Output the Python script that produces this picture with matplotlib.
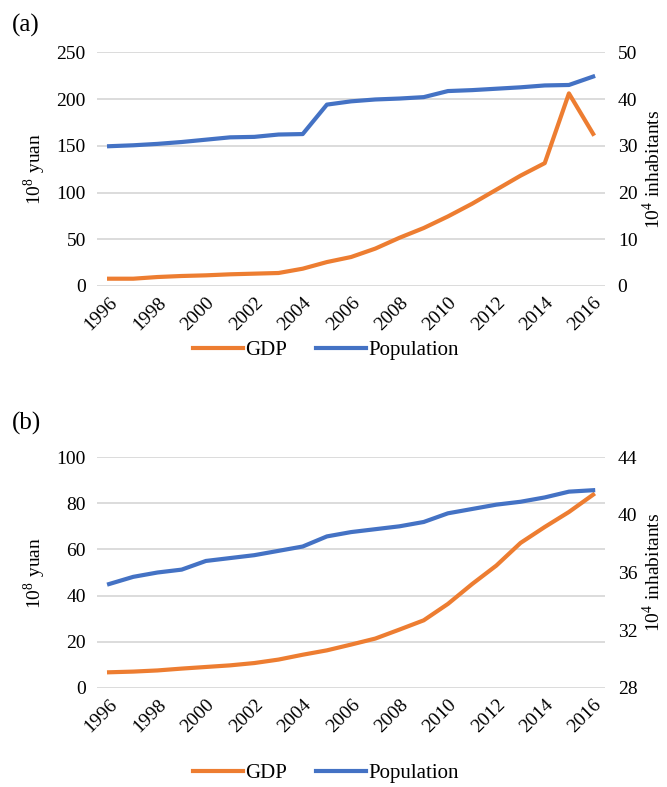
import matplotlib
matplotlib.use('Agg')
import matplotlib.pyplot as plt

plt.rcParams['font.family'] = ['Liberation Serif', 'DejaVu Serif']
plt.rcParams['mathtext.fontset'] = 'stix'

years = list(range(1996, 2017))

# panel (a)
gdp_a = [7.8, 7.8, 9.6, 10.7, 11.4, 12.5, 13.2, 13.9, 18.5, 25.6, 31.0,
         40.0, 51.6, 62.0, 74.4, 88.0, 103.0, 118.0, 131.4, 206.0, 162.7]
pop_a = [29.9, 30.1, 30.4, 30.8, 31.3, 31.8, 31.9, 32.4, 32.5, 38.8, 39.5,
         39.9, 40.1, 40.4, 41.7, 41.9, 42.2, 42.5, 42.9, 43.0, 44.8]

# panel (b)
gdp_b = [6.8, 7.1, 7.6, 8.4, 9.1, 9.8, 10.8, 12.3, 14.4, 16.3, 18.8,
         21.4, 25.3, 29.3, 36.4, 45.0, 53.0, 62.8, 69.7, 76.2, 83.7]
pop_b = [35.2, 35.7, 36.0, 36.2, 36.8, 37.0, 37.2, 37.5, 37.8, 38.5, 38.8,
         39.0, 39.2, 39.5, 40.1, 40.4, 40.7, 40.9, 41.2, 41.6, 41.7]

orange = '#ED7D31'
blue = '#4472C4'
grid_c = '#D9D9D9'
fs = 14


def panel(fig, rect, gdp, pop, lticks, rticks, tag, tag_y, leg_y):
    ax = fig.add_axes(rect)
    ax2 = ax.twinx()
    l1, = ax.plot(years, gdp, color=orange, lw=3, label='GDP')
    l2, = ax2.plot(years, pop, color=blue, lw=3, label='Population')
    ax.set_ylim(lticks[0], lticks[-1])
    ax.set_yticks(lticks)
    ax2.set_ylim(rticks[0], rticks[-1])
    ax2.set_yticks(rticks)
    ax.set_xlim(1995.5, 2016.5)
    ax.set_xticks(years[::2])
    ax.set_xticklabels([str(y) for y in years[::2]], rotation=45,
                       ha='right', rotation_mode='anchor', fontsize=fs)
    ax.grid(axis='y', color=grid_c, lw=1.3)
    ax.set_axisbelow(True)
    for a in (ax, ax2):
        for s in a.spines.values():
            s.set_visible(False)
        a.tick_params(length=0, labelsize=fs)
    ax.tick_params(axis='y', pad=8)
    ax2.tick_params(axis='y', pad=9)
    ax.tick_params(axis='x', pad=6)
    ax.set_ylabel('10$^{\\mathregular{8}}$ yuan', fontsize=fs, labelpad=6)
    ax2.set_ylabel('10$^{\\mathregular{4}}$ inhabitants', fontsize=fs, labelpad=3)
    ax.legend([l1, l2], ['GDP', 'Population'], loc='center',
              bbox_to_anchor=(0.45, leg_y), ncol=2, frameon=False,
              fontsize=15, handlelength=2.4, columnspacing=1.4, handletextpad=0.1)
    fig.text(0.018, tag_y, tag, fontsize=18, va='center')
    return ax


fig = plt.figure(figsize=(6.67, 7.87), dpi=100)
panel(fig, [0.1454, 0.6366, 0.762, 0.297], gdp_a, pop_a,
      [0, 50, 100, 150, 200, 250], [0, 10, 20, 30, 40, 50], '(a)',
      0.968, -0.275)
panel(fig, [0.1454, 0.1258, 0.762, 0.2935], gdp_b, pop_b,
      [0, 20, 40, 60, 80, 100], [28, 32, 36, 40, 44], '(b)',
      0.462, -0.37)

fig.savefig('out.png', dpi=100)
